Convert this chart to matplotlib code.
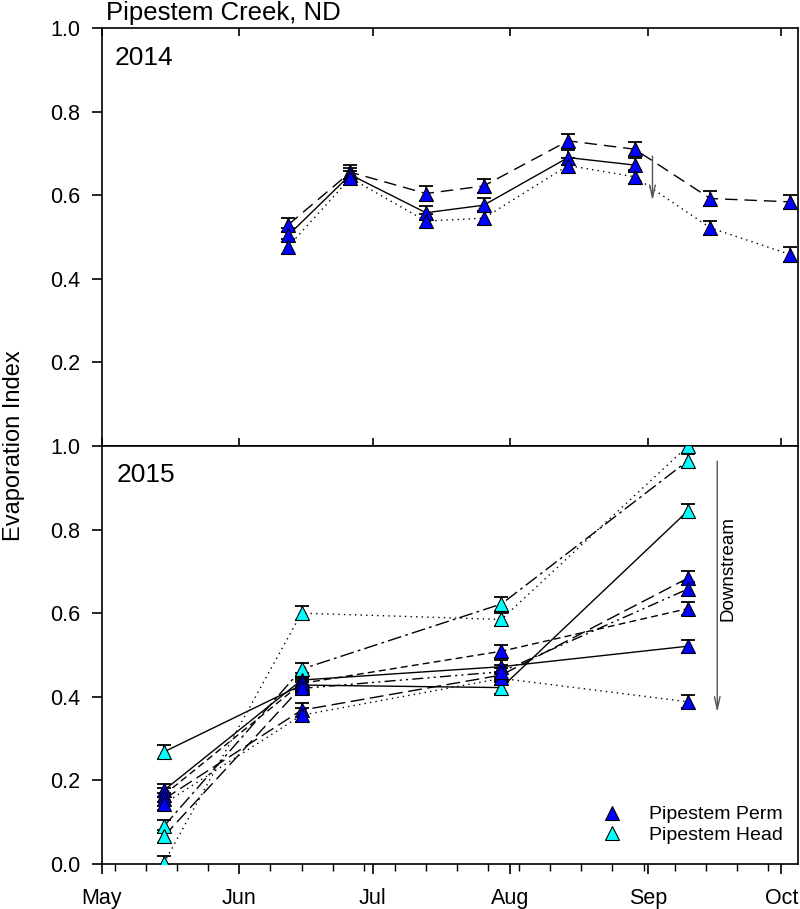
import numpy as np
import matplotlib
matplotlib.use('Agg')
import matplotlib.pyplot as plt
import matplotlib.dates as mdates
from matplotlib.lines import Line2D
from datetime import datetime

plt.rcParams['font.family'] = ['Liberation Sans', 'DejaVu Sans']

# Colori dei siti
perm_color = '#0000ff'
head_color = '#00ffff'

# 2014 - date di campionamento e indici
dates_2014 = ['2014-06-12', '2014-06-26', '2014-07-13', '2014-07-26',
              '2014-08-14', '2014-08-29', '2014-09-15', '2014-10-03']
dashed_2014 = [0.529, 0.655, 0.604, 0.622, 0.730, 0.710, 0.592, 0.584]
solid_2014 = [0.504, 0.649, 0.558, 0.576, 0.690, 0.672, np.nan, np.nan]
dotted_2014 = [0.477, 0.641, 0.538, 0.545, 0.671, 0.644, 0.522, 0.458]
err_2014 = 0.017

# 2015 - date (mese-giorno), messe sullo stesso asse stagionale
dates_2015 = ['05-15', '06-15', '07-30', '09-10']
perm_solid = [0.176, 0.440, 0.472, 0.521]
perm_short = [0.165, 0.432, 0.509, 0.611]
perm_long = [0.155, 0.368, 0.452, 0.684]
perm_dotted = [0.144, 0.356, 0.444, 0.388]
perm_dashdotdot = [np.nan, 0.420, 0.460, 0.658]
head_dotted = [0.002, 0.600, 0.585, 1.000]
head_solid = [0.268, 0.428, 0.422, 0.845]
head_dashdot = [0.090, 0.466, 0.622, 0.965]
head_long = [0.066, 0.424, np.nan, np.nan]
err_2015 = 0.016


def to_dates(strings, year=None):
    if year is None:
        return [datetime.strptime(s, '%Y-%m-%d') for s in strings]
    return [datetime.strptime('{}-{}'.format(year, s), '%Y-%m-%d') for s in strings]


def draw_series(ax, x, y, ls, color, err):
    # Solo i punti validi, la linea li collega tutti
    y = np.array(y, dtype=float)
    ok = ~np.isnan(y)
    xs = [xi for xi, k in zip(x, ok) if k]
    ys = y[ok]
    ax.plot(xs, ys, color='black', ls=ls, lw=1.0, zorder=2)
    ax.errorbar(xs, ys, yerr=err, fmt='none', ecolor='black', elinewidth=1.2,
                capsize=5, capthick=1.3, zorder=3)
    ax.plot(xs, ys, ls='none', marker='^', ms=9.5, mfc=color, mec='black',
            mew=0.8, zorder=4)


fig = plt.figure(figsize=(8, 9.09), dpi=100)
ax1 = fig.add_axes([0.127, 0.5094, 0.870, 0.4598])
ax2 = fig.add_axes([0.127, 0.0495, 0.870, 0.4599])

x_min = datetime(2014, 5, 1)
x_max = datetime(2014, 10, 4, 16)

# Pannello 2014
x14 = to_dates(dates_2014)
draw_series(ax1, x14, dashed_2014, (0, (9, 5)), perm_color, err_2014)
draw_series(ax1, x14, solid_2014, '-', perm_color, err_2014)
draw_series(ax1, x14, dotted_2014, (0, (1, 3)), perm_color, err_2014)
ax1.annotate('', xy=(datetime(2014, 9, 2), 0.58), xytext=(datetime(2014, 9, 2), 0.70),
             arrowprops=dict(arrowstyle='->,head_length=0.9,head_width=0.2',
                             color='#555555', lw=1.0))
ax1.text(0.019, 0.912, '2014', transform=ax1.transAxes, fontsize=19, va='baseline')

# Pannello 2015
x15 = to_dates(dates_2015, 2014)
draw_series(ax2, x15, head_dotted, (0, (1, 3)), head_color, err_2015)
draw_series(ax2, x15, head_solid, '-', head_color, err_2015)
draw_series(ax2, x15, head_dashdot, (0, (10, 3, 2, 3)), head_color, err_2015)
draw_series(ax2, x15, head_long, (0, (10, 4)), head_color, err_2015)
draw_series(ax2, x15, perm_solid, '-', perm_color, err_2015)
draw_series(ax2, x15, perm_short, (0, (5, 3)), perm_color, err_2015)
draw_series(ax2, x15, perm_long, (0, (10, 4)), perm_color, err_2015)
draw_series(ax2, x15, perm_dotted, (0, (1, 3)), perm_color, err_2015)
draw_series(ax2, x15, perm_dashdotdot, (0, (8, 3, 1.5, 3, 1.5, 3)), perm_color, err_2015)
ax2.annotate('', xy=(datetime(2014, 9, 16, 14), 0.356), xytext=(datetime(2014, 9, 16, 14), 0.97),
             arrowprops=dict(arrowstyle='->,head_length=0.9,head_width=0.2',
                             color='#555555', lw=1.0))
ax2.text(datetime(2014, 9, 19), 0.706, 'Downstream', rotation=90, fontsize=13.5,
         ha='center', va='center')
ax2.text(0.022, 0.913, '2015', transform=ax2.transAxes, fontsize=19, va='baseline')

# Legenda
handles = [Line2D([], [], ls='none', marker='^', ms=9.5, mfc=perm_color, mec='black', mew=0.8),
           Line2D([], [], ls='none', marker='^', ms=9.5, mfc=head_color, mec='black', mew=0.8)]
ax2.legend(handles, ['Pipestem Perm', 'Pipestem Head'], loc='lower right',
           bbox_to_anchor=(0.995, 0.02), frameon=False, fontsize=14,
           handletextpad=0.9, labelspacing=0.15, borderaxespad=0.2)

# Assi
for ax in (ax1, ax2):
    ax.set_xlim(x_min, x_max)
    ax.set_ylim(0, 1)
    ax.xaxis.set_major_locator(mdates.MonthLocator())
    ax.xaxis.set_major_formatter(mdates.DateFormatter('%b'))
    ax.yaxis.set_major_formatter(plt.FormatStrFormatter('%.1f'))
    ax.tick_params(axis='y', direction='out', length=7, width=1.2, labelsize=15.5, pad=8.5)
    for sp in ax.spines.values():
        sp.set_linewidth(1.2)

ax1.set_yticks([0.2, 0.4, 0.6, 0.8, 1.0])
ax1.tick_params(axis='x', which='major', direction='in', top=True, bottom=True,
                labelbottom=False, length=6, width=1.2)
ax2.set_yticks([0.0, 0.2, 0.4, 0.6, 0.8, 1.0])
ax2.xaxis.set_minor_locator(mdates.WeekdayLocator(byweekday=mdates.SU))
ax2.tick_params(axis='x', which='major', direction='out', length=7, width=1.2,
                labelsize=15.5, pad=10)
ax2.tick_params(axis='x', which='minor', direction='out', length=5, width=1.0)

fig.text(106 / 800, 0.978, 'Pipestem Creek, ND', fontsize=18.5, va='baseline')
fig.text(0.017, 1 - 446 / 909, 'Evaporation Index', rotation=90, fontsize=17,
         ha='center', va='center')

fig.savefig('out.png', dpi=100)
